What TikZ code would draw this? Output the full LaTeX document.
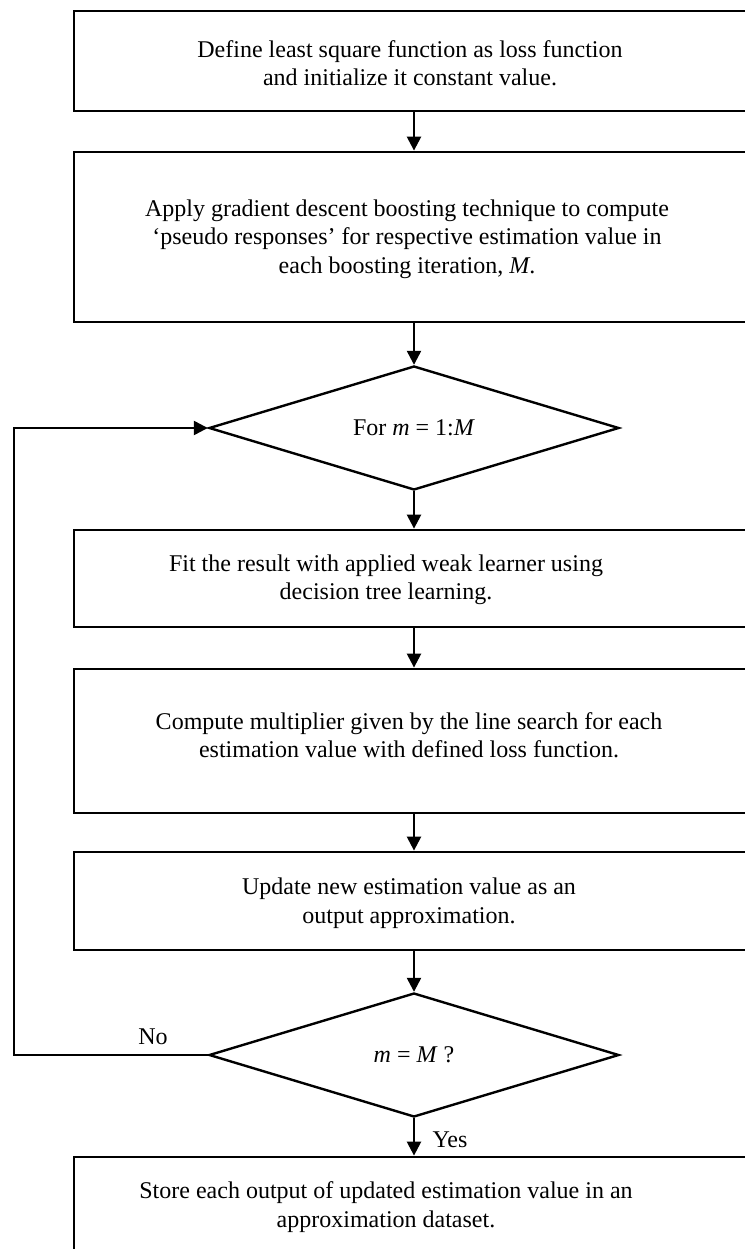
\documentclass[tikz,border=0pt]{standalone}
\usepackage{fontspec}
\setmainfont{Liberation Serif}
\usetikzlibrary{positioning, shapes.geometric, arrows.meta, calc}

\tikzset{
  stage/.style={draw, line width=2.8pt, minimum width=686pt, inner sep=0pt},
  txt/.style={align=center, inner sep=0pt, font=\fontsize{24}{28.5}\selectfont},
  decision/.style={draw, diamond, aspect=3.3, line width=2.4pt, minimum width=410pt,
    minimum height=124pt, inner sep=0pt, font=\fontsize{24}{28.5}\selectfont},
  arr/.style={line width=2.4pt, -{Triangle[length=14pt,width=14pt]}}
}

\begin{document}
\begin{tikzpicture}[x=1pt, y=-1pt]
    \useasboundingbox (0,0) rectangle (744,1249);

    % process boxes (they run off the right side)
    \node[stage, minimum height=100pt] (init) at (417,61) {};
    \node[stage, minimum height=170pt] (boost) at (417,237) {};
    \node[stage, minimum height=97pt] (fit) at (417,578.5) {};
    \node[stage, minimum height=144pt] (mult) at (417,741) {};
    \node[stage, minimum height=98pt] (update) at (417,901) {};
    \node[stage, minimum height=133pt] (store) at (417,1223.5) {};

    % decisions
    \node[decision] (fordec) at (414,428) {For \textit{m} = 1:\textit{M}};
    \node[decision] (check) at (414,1055) {\textit{m} = \textit{M} ?};

    % texts of the boxes
    \node[txt] (initText) at (410,63) {Define least square function as loss function\\and initialize it constant value.};
    \node[txt] (boostText) at (407,239) {Apply gradient descent boosting technique to compute\\`pseudo responses' for respective estimation value in\\each boosting iteration, \textit{M}.};
    \node[txt] (fitText) at (386,580) {Fit the result with applied weak learner using\\decision tree learning.};
    \node[txt] (multText) at (409,735) {Compute multiplier given by the line search for each\\estimation value with defined loss function.};
    \node[txt] (updateText) at (409,903) {Update new estimation value as an\\output approximation.};
    \node[txt] (storeText) at (386,1207) {Store each output of updated estimation value in an\\approximation dataset.};

    % flow
    \draw[arr] (init.south -| fordec) -- (boost.north -| fordec);
    \draw[arr] (boost.south -| fordec) -- (fordec.north);
    \draw[arr] (fordec.south) -- (fit.north -| fordec);
    \draw[arr] (fit.south -| fordec) -- (mult.north -| fordec);
    \draw[arr] (mult.south -| fordec) -- (update.north -| fordec);
    \draw[arr] (update.south -| fordec) -- (check.north);
    \draw[arr] (check.south) -- (store.north -| check);

    % loop back
    \coordinate (back) at (14,1055);
    \draw[arr] (check.west) -- (back) |- (fordec.west);
    \node[txt] (noLabel) at (153,1037) {No};
    \node[txt] (yesLabel) at (450,1140) {Yes};
\end{tikzpicture}
\end{document}
